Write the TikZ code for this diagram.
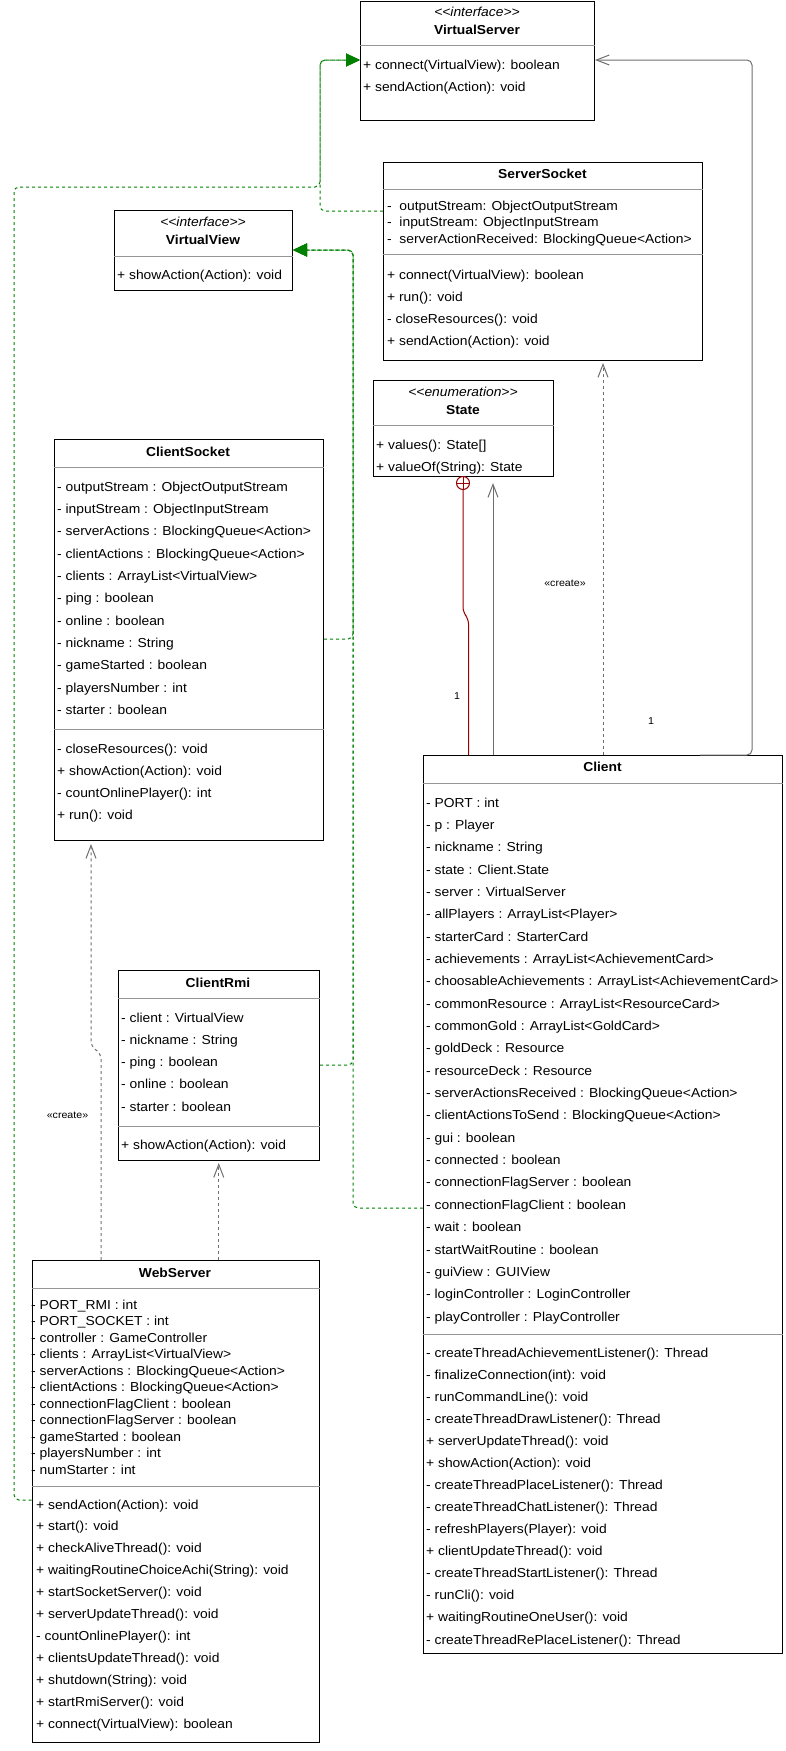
\documentclass[tikz,border=0pt]{standalone}
\usepackage{fontspec}
\setmainfont{Liberation Sans}[FakeStretch=1.065]
\usetikzlibrary{arrows.meta}

\definecolor{sepgray}{RGB}{150,150,150}
\definecolor{linkgray}{RGB}{110,110,110}
\definecolor{realgreen}{RGB}{0,128,0}
\definecolor{nestred}{RGB}{153,0,0}

% angle-bracket stereotype; the kerns keep << and >> from turning into guillemets
\newcommand{\stereotype}[1]{<\kern0pt<#1>\kern0pt>}

\tikzset{
  classbox/.style={draw=black, line width=1pt, fill=white, inner sep=0pt, anchor=north west},
  sepline/.style={draw=sepgray, line width=1pt},
  member/.style={anchor=base west, inner sep=0pt, font=\fontsize{13}{15}\selectfont},
  classname/.style={anchor=base, inner sep=0pt, font=\fontsize{13}{15}\selectfont\bfseries},
  stereo/.style={anchor=base, inner sep=0pt, font=\fontsize{13}{15}\selectfont\itshape},
  tag/.style={inner sep=0pt, font=\fontsize{10}{12}\selectfont, text=black},
  realize/.style={draw=realgreen, line width=1pt, dash pattern=on 3pt off 3pt,
    rounded corners=5pt, -{Triangle[length=14pt,width=13pt]}},
  depend/.style={draw=linkgray, line width=1pt, dash pattern=on 3pt off 3pt,
    rounded corners=5pt, -{Straight Barb[length=13pt,width=10pt]}},
  assoc/.style={draw=linkgray, line width=1pt, rounded corners=5pt,
    -{Straight Barb[length=13pt,width=10pt]}},
  nestline/.style={draw=nestred, line width=1pt, rounded corners=5pt},
  nestmark/.style={circle, draw=nestred, line width=1pt, fill=white, minimum size=13pt, inner sep=0pt},
}

\begin{document}
\begin{tikzpicture}[x=1pt, y=-1pt]
\useasboundingbox (0,0) rectangle (785,1751);

% ---------- VirtualServer (interface) ----------
\node[classbox, minimum width=234pt, minimum height=119pt] (virtualserver) at (360,1) {};
\node[stereo] (vs-stereo) at (477,16.5) {\stereotype{interface}};
\node[classname] (vs-name) at (477,34) {VirtualServer};
\draw[sepline] (virtualserver.west |- 0,45) -- (virtualserver.east |- 0,45);
\foreach \t [count=\i from 0] in {{+ connect(VirtualView): boolean},{+ sendAction(Action): void}}
  \node[member] (vs-m\i) at (363,{69+22*\i}) {\t};

% ---------- ServerSocket ----------
\node[classbox, minimum width=319pt, minimum height=198pt] (serversocket) at (383,162) {};
\node[classname] (ss-name) at (542.5,178) {ServerSocket};
\draw[sepline] (serversocket.west |- 0,189) -- (serversocket.east |- 0,189);
\foreach \t [count=\i from 0] in {{-\ \ outputStream: ObjectOutputStream},{-\ \ inputStream: ObjectInputStream},{-\ \ serverActionReceived: BlockingQueue<Action>}}
  \node[member] (ss-a\i) at (387,{210+16.5*\i}) {\t};
\draw[sepline] (serversocket.west |- 0,254) -- (serversocket.east |- 0,254);
\foreach \t [count=\i from 0] in {{+ connect(VirtualView): boolean},{+ run(): void},{- closeResources(): void},{+ sendAction(Action): void}}
  \node[member] (ss-m\i) at (387,{279+22.3*\i}) {\t};

% ---------- VirtualView (interface) ----------
\node[classbox, minimum width=178pt, minimum height=80pt] (virtualview) at (114,210) {};
\node[stereo] (vv-stereo) at (203,226.5) {\stereotype{interface}};
\node[classname] (vv-name) at (203,244) {VirtualView};
\draw[sepline] (virtualview.west |- 0,256) -- (virtualview.east |- 0,256);
\node[member] (vv-m0) at (117,279) {+ showAction(Action): void};

% ---------- State (enumeration) ----------
\node[classbox, minimum width=180pt, minimum height=96pt] (state) at (373,380) {};
\node[stereo] (st-stereo) at (463,396.5) {\stereotype{enumeration}};
\node[classname] (st-name) at (463,414) {State};
\draw[sepline] (state.west |- 0,425) -- (state.east |- 0,425);
\foreach \t [count=\i from 0] in {{+ values(): State[]},{+ valueOf(String): State}}
  \node[member] (st-m\i) at (376,{449+22*\i}) {\t};

% ---------- ClientSocket ----------
\node[classbox, minimum width=269.5pt, minimum height=401pt] (clientsocket) at (53.5,439) {};
\node[classname] (cs-name) at (188,456) {ClientSocket};
\draw[sepline] (clientsocket.west |- 0,467) -- (clientsocket.east |- 0,467);
\foreach \t [count=\i from 0] in {
  {- outputStream : ObjectOutputStream},
  {- inputStream : ObjectInputStream},
  {- serverActions : BlockingQueue<Action>},
  {- clientActions : BlockingQueue<Action>},
  {- clients : ArrayList<VirtualView>},
  {- ping : boolean},
  {- online : boolean},
  {- nickname : String},
  {- gameStarted : boolean},
  {- playersNumber : int},
  {- starter : boolean}}
  \node[member] (cs-a\i) at (57,{491+22.35*\i}) {\t};
\draw[sepline] (clientsocket.west |- 0,729) -- (clientsocket.east |- 0,729);
\foreach \t [count=\i from 0] in {
  {- closeResources(): void},
  {+ showAction(Action): void},
  {- countOnlinePlayer(): int},
  {+ run(): void}}
  \node[member] (cs-m\i) at (57,{753+22.3*\i}) {\t};

% ---------- ClientRmi ----------
\node[classbox, minimum width=201.5pt, minimum height=190pt] (clientrmi) at (117.5,970) {};
\node[classname] (cr-name) at (218,987) {ClientRmi};
\draw[sepline] (clientrmi.west |- 0,998) -- (clientrmi.east |- 0,998);
\foreach \t [count=\i from 0] in {
  {- client : VirtualView},
  {- nickname : String},
  {- ping : boolean},
  {- online : boolean},
  {- starter : boolean}}
  \node[member] (cr-a\i) at (121,{1022+22.3*\i}) {\t};
\draw[sepline] (clientrmi.west |- 0,1126) -- (clientrmi.east |- 0,1126);
\node[member] (cr-m0) at (121,1149) {+ showAction(Action): void};

% ---------- WebServer ----------
\node[classbox, minimum width=287.5pt, minimum height=482pt] (webserver) at (31.5,1260) {};
\node[classname] (ws-name) at (175,1277) {WebServer};
\draw[sepline] (webserver.west |- 0,1288) -- (webserver.east |- 0,1288);
\foreach \t [count=\i from 0] in {
  {- PORT\_RMI : int},
  {- PORT\_SOCKET : int},
  {- controller : GameController},
  {- clients : ArrayList<VirtualView>},
  {- serverActions : BlockingQueue<Action>},
  {- clientActions : BlockingQueue<Action>},
  {- connectionFlagClient : boolean},
  {- connectionFlagServer : boolean},
  {- gameStarted : boolean},
  {- playersNumber : int},
  {- numStarter : int}}
  \node[member] (ws-a\i) at (31,{1309+16.5*\i}) {\t};
\draw[sepline] (webserver.west |- 0,1486) -- (webserver.east |- 0,1486);
\foreach \t [count=\i from 0] in {
  {+ sendAction(Action): void},
  {+ start(): void},
  {+ checkAliveThread(): void},
  {+ waitingRoutineChoiceAchi(String): void},
  {+ startSocketServer(): void},
  {+ serverUpdateThread(): void},
  {- countOnlinePlayer(): int},
  {+ clientsUpdateThread(): void},
  {+ shutdown(String): void},
  {+ startRmiServer(): void},
  {+ connect(VirtualView): boolean}}
  \node[member] (ws-m\i) at (36,{1509+21.9*\i}) {\t};

% ---------- Client ----------
\node[classbox, minimum width=359pt, minimum height=898pt] (client) at (423,755) {};
\node[classname] (cl-name) at (602.5,771.5) {Client};
\draw[sepline] (client.west |- 0,783) -- (client.east |- 0,783);
\foreach \t [count=\i from 0] in {
  {- PORT : int},
  {- p : Player},
  {- nickname : String},
  {- state : Client.State},
  {- server : VirtualServer},
  {- allPlayers : ArrayList<Player>},
  {- starterCard : StarterCard},
  {- achievements : ArrayList<AchievementCard>},
  {- choosableAchievements : ArrayList<AchievementCard>},
  {- commonResource : ArrayList<ResourceCard>},
  {- commonGold : ArrayList<GoldCard>},
  {- goldDeck : Resource},
  {- resourceDeck : Resource},
  {- serverActionsReceived : BlockingQueue<Action>},
  {- clientActionsToSend : BlockingQueue<Action>},
  {- gui : boolean},
  {- connected : boolean},
  {- connectionFlagServer : boolean},
  {- connectionFlagClient : boolean},
  {- wait : boolean},
  {- startWaitRoutine : boolean},
  {- guiView : GUIView},
  {- loginController : LoginController},
  {- playController : PlayController}}
  \node[member] (cl-a\i) at (426,{807+22.35*\i}) {\t};
\draw[sepline] (client.west |- 0,1334) -- (client.east |- 0,1334);
\foreach \t [count=\i from 0] in {
  {- createThreadAchievementListener(): Thread},
  {- finalizeConnection(int): void},
  {- runCommandLine(): void},
  {- createThreadDrawListener(): Thread},
  {+ serverUpdateThread(): void},
  {+ showAction(Action): void},
  {- createThreadPlaceListener(): Thread},
  {- createThreadChatListener(): Thread},
  {- refreshPlayers(Player): void},
  {+ clientUpdateThread(): void},
  {- createThreadStartListener(): Thread},
  {- runCli(): void},
  {+ waitingRoutineOneUser(): void},
  {- createThreadRePlaceListener(): Thread}}
  \node[member] (cl-m\i) at (426,{1357+22.08*\i}) {\t};

% ---------- realizations of VirtualServer ----------
\draw[realize] (serversocket.west |- 0,211) -- (320,211) -- (320,60) -- (virtualserver.west |- 0,60);
\draw[realize] (webserver.west |- 0,1500) -- (14,1500) -- (14,187) -- (320,187) -- (320,60) -- (virtualserver.west |- 0,60);

% ---------- realizations of VirtualView ----------
\draw[realize] (clientsocket.east |- 0,639) -- (353,639) -- (353,250) -- (virtualview.east |- 0,250);
\draw[realize] (clientrmi.east |- 0,1065) -- (353,1065) -- (353,250) -- (virtualview.east |- 0,250);
\draw[realize] (client.west |- 0,1208) -- (353,1208) -- (353,250) -- (virtualview.east |- 0,250);

% ---------- dependencies ----------
\draw[depend] (webserver.north -| clientrmi.south) -- ([yshift=-2pt]clientrmi.south);
\draw[depend] (webserver.north -| 101,0) -- (101,1054) -- (91,1046) -- ([yshift=-3pt]clientsocket.south -| 91,0);
\node[tag] (create-ws) at (67.5,1115) {«create»};
\draw[depend] (client.north) -- ([yshift=-2pt]client.north |- serversocket.south);
\node[tag] (create-cl) at (565,583) {«create»};

% ---------- associations ----------
\draw[assoc] (client.north -| 493,0) -- ([yshift=-6pt]state.south -| 493,0);
\draw[assoc] (client.north -| 700,0) -- (752,755) -- (752,60) -- (virtualserver.east |- 0,60);
\node[tag] (mult-server) at (651,721) {1};

% ---------- nesting of State inside Client ----------
\node[nestmark] (nest) at (463,483) {};
\draw[nestred, line width=1pt] (nest.north) -- (nest.south) (nest.west) -- (nest.east);
\draw[nestline] (nest.south) -- (463,612) -- (468.5,619) -- (client.north -| 468.5,0);
\node[tag] (mult-nest) at (457,696) {1};

\end{tikzpicture}
\end{document}
